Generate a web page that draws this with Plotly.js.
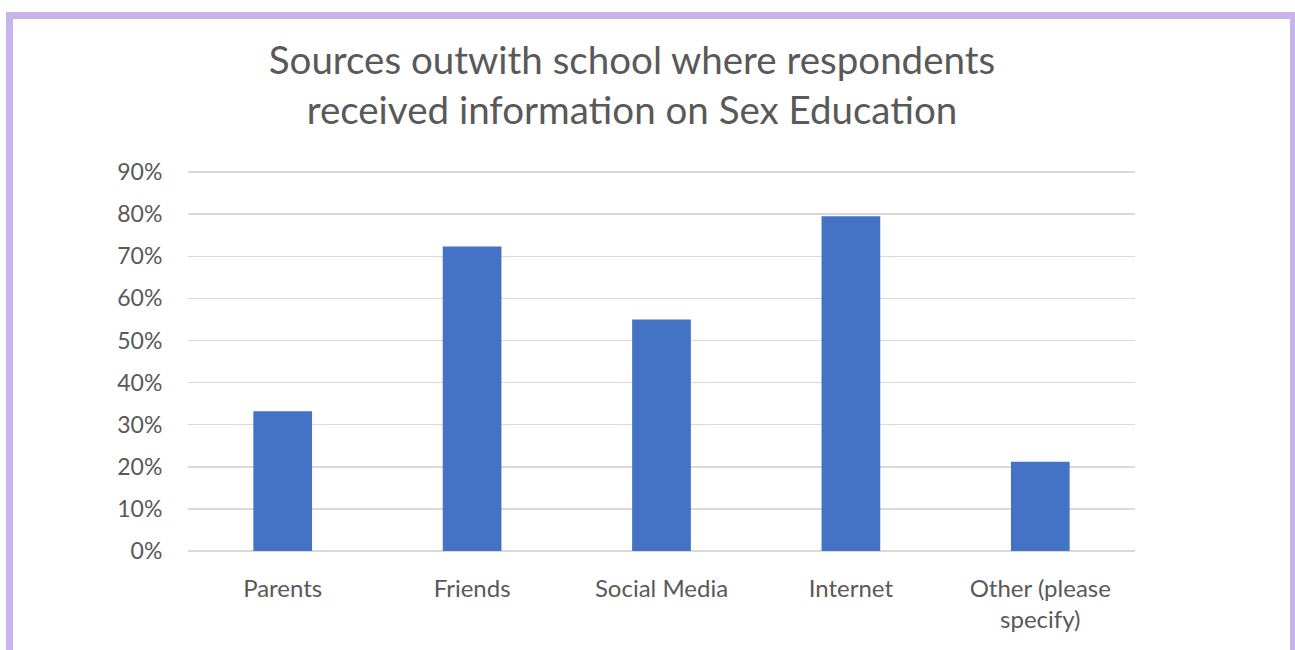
<!DOCTYPE html>
<html>
<head>
<meta charset="utf-8">
<script src="https://cdn.plot.ly/plotly-3.0.1.min.js"></script>
<style>
  html, body { margin: 0; padding: 0; background: #ffffff; overflow: hidden; }
  #frame { position: absolute; left: 6px; top: 12px; width: 1277px; height: 700px;
           border: 7px solid #c9b3ec; background: #ffffff; }
  #chart { position: absolute; left: 0; top: 0; width: 1295px; height: 650px; }
</style>
</head>
<body>
<div id="frame"></div>
<div id="chart"></div>
<script>
const categories = ["Parents", "Friends", "Social Media", "Internet", "Other (please<br>specify)"];
const values = [0.332, 0.723, 0.550, 0.795, 0.212];
const yTickVals = [0, 0.1, 0.2, 0.3, 0.4, 0.5, 0.6, 0.7, 0.8, 0.9];
const yTickText = ["0%", "10%", "20%", "30%", "40%", "50%", "60%", "70%", "80%", "90%"];
const titleText = "Sources outwith school where respondents<br>received information on Sex Education";

const font = "Lato, 'Open Sans', sans-serif";
const textColor = "#595959";

const data = [{
  type: "bar",
  x: categories,
  y: values,
  marker: { color: "#4472c4" },
  hoverinfo: "x+y"
}];

const layout = {
  width: 1295,
  height: 650,
  paper_bgcolor: "rgba(0,0,0,0)",
  plot_bgcolor: "rgba(0,0,0,0)",
  margin: { l: 188, r: 160, t: 171, b: 99, pad: 0 },
  bargap: 0.69,
  showlegend: false,
  title: {
    text: titleText,
    font: { family: font, size: 38.5, color: textColor },
    x: 632 / 1295,
    xanchor: "center",
    xref: "container",
    y: 1 - 74 / 650,
    yanchor: "middle",
    yref: "container"
  },
  xaxis: {
    type: "category",
    showgrid: false,
    zeroline: false,
    showline: false,
    ticks: "outside",
    ticklen: 16,
    tickcolor: "rgba(0,0,0,0)",
    tickfont: { family: font, size: 24, color: textColor }
  },
  yaxis: {
    range: [0, 0.9025],
    tickvals: yTickVals,
    ticktext: yTickText,
    showgrid: true,
    gridcolor: "#d9d9d9",
    gridwidth: 1.5,
    zeroline: true,
    zerolinecolor: "#d9d9d9",
    zerolinewidth: 1.5,
    showline: false,
    ticks: "outside",
    ticklen: 20,
    tickcolor: "rgba(0,0,0,0)",
    tickfont: { family: font, size: 23, color: textColor }
  }
};

Plotly.newPlot("chart", data, layout, { displayModeBar: false, staticPlot: true });
</script>
</body>
</html>
